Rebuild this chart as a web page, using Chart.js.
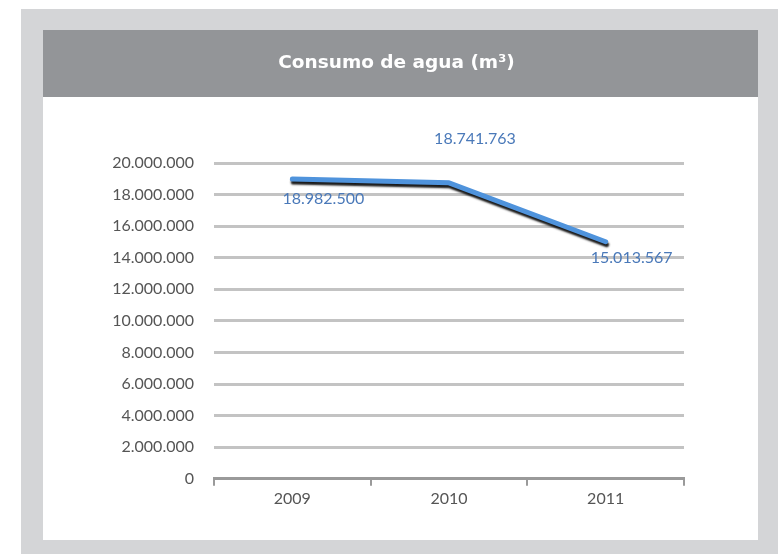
<!DOCTYPE html>
<html>
<head>
<meta charset="utf-8">
<script src="https://cdn.jsdelivr.net/npm/chart.js@4/dist/chart.umd.min.js"></script>
<style>
    body { margin: 0; background: #fff; }
    #frame { position: absolute; left: 21px; top: 9px; width: 757px; height: 545px; background: #d4d5d7; }
    #panel { position: absolute; left: 22px; top: 21px; width: 715px; height: 510px; background: #fff; }
</style>
</head>
<body>
<div id="frame">
    <div id="panel">
        <canvas id="agua-chart" width="715" height="510"></canvas>
    </div>
</div>
<script>
const chartTitle = "Consumo de agua (m³)";
const years = ["2009", "2010", "2011"];
const consumo = [18982500, 18741763, 15013567];
const yTicks = [0, 2000000, 4000000, 6000000, 8000000, 10000000, 12000000, 14000000, 16000000, 18000000, 20000000];

// where each value label sits relative to its point
const labelOffsets = [[31, 20], [26, -44], [26, 16]];

const fmt = v => v.toString().replace(/\B(?=(\d{3})+(?!\d))/g, ".");

// grey header band with the title centred across the whole panel
const titleBand = {
    id: 'titleBand',
    beforeDraw(chart) {
        const ctx = chart.ctx;
        ctx.save();
        ctx.fillStyle = '#939598';
        ctx.fillRect(0, 0, chart.width, 67);
        ctx.fillStyle = '#ffffff';
        ctx.font = 'bold 18.5px "DejaVu Sans"';
        ctx.textAlign = 'center';
        ctx.textBaseline = 'middle';
        ctx.fillText(chartTitle, chart.width / 2 - 4, 33);
        ctx.restore();
    }
};

// dark shadow under the line
const lineShadow = {
    id: 'lineShadow',
    beforeDatasetDraw(chart) {
        const ctx = chart.ctx;
        ctx.save();
        ctx.shadowColor = 'rgba(0,0,0,0.9)';
        ctx.shadowBlur = 2;
        ctx.shadowOffsetX = 1;
        ctx.shadowOffsetY = 3;
    },
    afterDatasetDraw(chart) {
        chart.ctx.restore();
    }
};

const valueLabels = {
    id: 'valueLabels',
    afterDatasetsDraw(chart) {
        const ctx = chart.ctx;
        const meta = chart.getDatasetMeta(0);
        ctx.save();
        ctx.font = '16px Lato';
        ctx.fillStyle = '#4a79b9';
        ctx.textAlign = 'center';
        ctx.textBaseline = 'middle';
        meta.data.forEach((pt, i) => {
            ctx.fillText(fmt(consumo[i]), pt.x + labelOffsets[i][0], pt.y + labelOffsets[i][1]);
        });
        ctx.restore();
    }
};

const aguaCanvas = document.getElementById('agua-chart');

let aguaChart = new Chart(aguaCanvas, {
    type: 'line',
    data: {
        labels: years,
        datasets: [{
            data: consumo,
            borderColor: '#4f93dc',
            borderWidth: 5,
            tension: 0,
            pointRadius: 0,
            borderCapStyle: 'round',
            borderJoinStyle: 'round',
            fill: false
        }]
    },
    options: {
        responsive: false,
        animation: { duration: 0 },
        layout: {
            padding: { left: 0, right: 74, top: 133, bottom: 29 }
        },
        scales: {
            x: {
                offset: true,
                grid: {
                    offset: true,
                    drawOnChartArea: false,
                    drawTicks: true,
                    tickLength: 7,
                    color: '#9a9a9a',
                    lineWidth: 2
                },
                border: { display: true, color: '#9a9a9a', width: 3 },
                ticks: {
                    color: '#555555',
                    font: { family: 'Lato', size: 16 },
                    padding: 3
                }
            },
            y: {
                min: 0,
                max: 20000000,
                afterBuildTicks(axis) {
                    axis.ticks = yTicks.map(v => ({ value: v }));
                },
                afterFit(axis) {
                    axis.width = 171;
                },
                grid: {
                    drawTicks: false,
                    color: ctx => ctx.tick.value === 0 ? 'rgba(0,0,0,0)' : '#c3c3c3',
                    lineWidth: 3
                },
                border: { display: false },
                ticks: {
                    color: '#555555',
                    font: { family: 'Lato', size: 16 },
                    padding: 20,
                    callback: v => fmt(v)
                }
            }
        },
        plugins: {
            legend: { display: false },
            tooltip: { enabled: false },
            title: { display: false }
        }
    },
    plugins: [titleBand, lineShadow, valueLabels]
});
</script>
</body>
</html>
